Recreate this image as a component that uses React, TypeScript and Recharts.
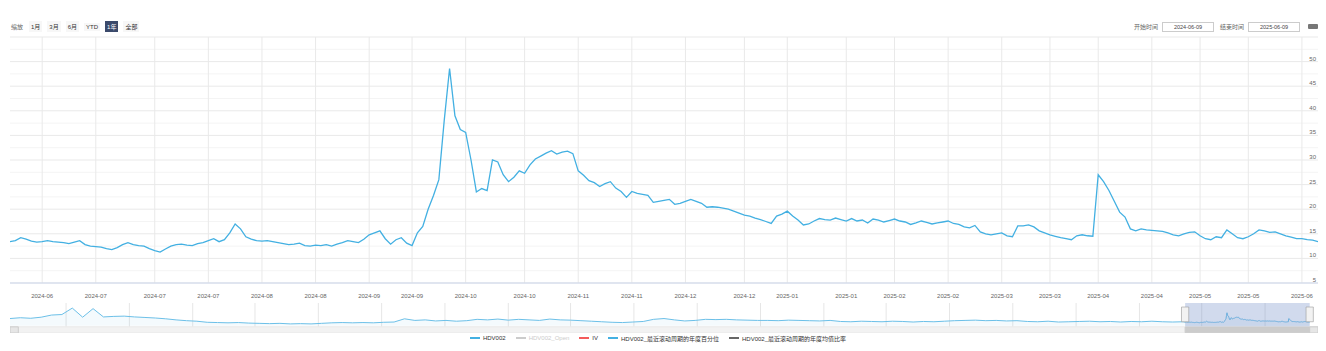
import React from 'react';
import { LineChart, Line, XAxis, YAxis, CartesianGrid, AreaChart, Area, ReferenceArea } from 'recharts';

const FONT = '"Liberation Sans", "Noto Sans CJK SC", Arial, sans-serif';

// main series (trading days, 2024-06 .. 2025-06)
const hv: number[] = [
  13.4, 13.6, 14.2, 13.9, 13.5, 13.3, 13.4, 13.6, 13.4, 13.3,
  13.2, 13.0, 13.3, 13.6, 12.8, 12.5, 12.4, 12.3, 12.0, 11.8,
  12.2, 12.8, 13.2, 12.8, 12.6, 12.5, 12.0, 11.6, 11.3, 11.9,
  12.5, 12.8, 12.9, 12.7, 12.6, 13.0, 13.2, 13.6, 14.0, 13.4,
  13.8, 15.2, 17.0, 16.0, 14.4, 13.9, 13.6, 13.5, 13.6, 13.4,
  13.2, 13.0, 12.8, 12.9, 13.1, 12.6, 12.5, 12.7, 12.6, 12.8,
  12.5, 12.9, 13.2, 13.6, 13.4, 13.2, 13.9, 14.8, 15.2, 15.6,
  14.0, 12.9, 13.8, 14.2, 13.1, 12.6, 15.2, 16.5, 20.0, 22.8,
  26.0, 38.0, 48.6, 39.0, 36.2, 35.6, 30.0, 23.5, 24.2, 23.8,
  30.0, 29.6, 27.0, 25.6, 26.5, 27.8, 27.3, 29.0, 30.2, 30.8,
  31.4, 31.9, 31.2, 31.6, 31.8, 31.3, 27.8, 26.9, 25.8, 25.4,
  24.6, 25.2, 25.6, 24.3, 23.6, 22.4, 23.6, 23.2, 23.0, 22.8,
  21.4, 21.6, 21.8, 22.0, 21.0, 21.2, 21.6, 22.0, 21.6, 21.2,
  20.4, 20.5, 20.4, 20.2, 20.0, 19.6, 19.2, 18.8, 18.6, 18.2,
  17.9, 17.5, 17.1, 18.6, 19.0, 19.6, 18.6, 17.8, 16.8, 17.0,
  17.6, 18.1, 17.9, 17.8, 18.2, 17.9, 17.6, 18.1, 17.6, 17.8,
  17.2, 18.0, 17.8, 17.4, 17.7, 18.0, 17.6, 17.4, 16.9, 17.2,
  17.6, 17.3, 17.0, 17.2, 17.4, 17.6, 17.1, 16.9, 16.4, 16.2,
  16.7, 15.4, 15.0, 14.8, 15.0, 15.2, 14.6, 14.4, 16.6, 16.6,
  16.8, 16.4, 15.6, 15.2, 14.8, 14.5, 14.2, 14.0, 13.8, 14.6,
  14.8, 14.6, 14.5, 27.0, 25.6, 23.8, 21.6, 19.4, 18.4, 16.0,
  15.6, 16.0, 15.8, 15.7, 15.6, 15.5, 15.2, 14.8, 14.6, 15.0,
  15.3, 15.4, 14.6, 14.0, 13.8, 14.4, 14.2, 15.8, 15.0, 14.2,
  14.0, 14.4, 15.0, 15.8, 15.6, 15.3, 15.4, 15.0, 14.6, 14.3,
  14.0, 14.0, 13.8, 13.7, 13.4,
];

const xTickIdx: number[] = [6, 16, 27, 37, 47, 57, 67, 75, 85, 96, 106, 116, 126, 137, 145, 156, 165, 175, 185, 194, 203, 213, 222, 231, 241];
const xTickLabels: string[] = [
  '2024-06', '2024-07', '2024-07', '2024-07', '2024-08', '2024-08', '2024-09', '2024-09', '2024-10', '2024-10',
  '2024-11', '2024-11', '2024-12', '2024-12', '2025-01', '2025-01', '2025-02', '2025-02', '2025-03', '2025-03',
  '2025-04', '2025-04', '2025-05', '2025-05', '2025-06',
];
const yTicks: number[] = [5, 10, 15, 20, 25, 30, 35, 40, 45, 50, 55];
const yMinor: number[] = [7.5, 12.5, 17.5, 22.5, 27.5, 32.5, 37.5, 42.5, 47.5, 52.5];

// navigator: monthly history before the selected year
const navHistory: number[] = [
  27, 30, 28, 32, 40, 42, 66, 32, 64, 33,
  35, 36, 33, 31, 29, 26, 22, 19, 17, 13,
  12, 11, 12, 10, 9, 8, 9, 7, 8, 7,
  9, 11, 12, 11, 12, 11, 13, 14, 26, 20,
  22, 18, 20, 17, 19, 24, 22, 25, 21, 24,
  22, 20, 25, 22, 21, 19, 17, 15, 13, 12,
  14, 16, 24, 27, 22, 18, 20, 24, 23, 24,
  22, 21, 20, 20, 19, 21, 20, 19, 18, 20,
  16, 15, 17, 16, 15, 17, 16, 14, 16, 15,
  17, 19, 20, 21, 19, 20, 18, 19, 16, 15,
  17, 14, 15, 16, 17, 15, 16, 14, 16, 15,
  17, 15, 14, 15,
];
const navTicks: number[] = [5.4, 11.5, 17.6, 23.6, 29.7, 35.8, 41.9, 48.0, 54.0, 60.1, 66.2, 72.3, 78.4, 84.4, 90.5, 96.6, 102.7, 108.8, 114.8, 120.9];
const navTickLabels: string[] = [
  '2015-07', '2016-01', '2016-07', '2017-01', '2017-07', '2018-01', '2018-07', '2019-01', '2019-07', '2020-01',
  '2020-07', '2021-01', '2021-07', '2022-01', '2022-07', '2023-01', '2023-07', '2024-01', '2024-07', '2025-01',
];
const selStart = 113.2;
const selEnd = 125.2;

const legendNames: string[] = ['HDV002', 'HDV002_Open', 'IV', 'HDV002_最近滚动周期的年度百分位', 'HDV002_最近滚动周期的年度均值比率'];
const legendLineColors: string[] = ['#43b0e2', '#cccccc', '#f45b5b', '#43b0e2', '#666666'];
const legendTextColors: string[] = ['#333333', '#cccccc', '#333333', '#333333', '#333333'];

const rangeButtons: string[] = ['1月', '3月', '6月', 'YTD', '1年', '全部'];
const selectedButton = '1年';
const startDate = '2024-06-09';
const endDate = '2025-06-09';

const mainData = hv.map((v, i) => ({ i, hv: v }));
const navData = [
  ...navHistory.map((v, m) => ({ t: m, v })),
  ...hv.map((v, i) => ({ t: selStart + (i * (selEnd - selStart)) / (hv.length - 1), v })),
];

const YTick = (props: any) => {
  const { x, y, payload } = props;
  if (payload.value === 55) return <g />;
  return (
    <text x={x} y={y - 3} textAnchor="end" dominantBaseline="central" fontSize={6} fill="#666" fontFamily={FONT}>
      {payload.value}
    </text>
  );
};

const XTick = (props: any) => {
  const { x, y, payload } = props;
  const k = xTickIdx.indexOf(payload.value);
  return (
    <text x={x} y={y + 5} textAnchor="middle" dominantBaseline="central" fontSize={6} fill="#666" fontFamily={FONT}>
      {xTickLabels[k]}
    </text>
  );
};

const NavTick = (props: any) => {
  const { x, y, payload } = props;
  const k = navTicks.indexOf(payload.value);
  return (
    <text x={x + 3} y={y - 14} textAnchor="start" dominantBaseline="central" fontSize={5.5} fill="#999" fontFamily={FONT}>
      {navTickLabels[k]}
    </text>
  );
};

export default function App() {
  return (
    <div style={{ position: 'absolute', left: 0, top: 0, width: 1326, height: 351, background: '#fff', fontFamily: FONT, overflow: 'hidden' }}>
      {/* range selector */}
      <div style={{ position: 'absolute', left: 11, top: 22, height: 9, display: 'flex', alignItems: 'center', fontSize: 6, color: '#666' }}>
        <span style={{ marginRight: 6 }}>缩放</span>
        {rangeButtons.map((b) => (
          <span
            key={b}
            style={{
              marginRight: 5,
              padding: '1px 2px',
              background: b === selectedButton ? '#3b4a6b' : '#f7f7f7',
              color: b === selectedButton ? '#fff' : '#333',
            }}
          >
            {b}
          </span>
        ))}
      </div>
      {/* date inputs */}
      <div style={{ position: 'absolute', left: 1134, top: 22, height: 9, display: 'flex', alignItems: 'center', fontSize: 6, color: '#666' }}>
        <span style={{ marginRight: 4 }}>开始时间</span>
        <span style={{ width: 50, height: 8, border: '1px solid #cccccc', fontSize: 5.5, color: '#444', display: 'flex', alignItems: 'center', justifyContent: 'center', marginRight: 6 }}>{startDate}</span>
        <span style={{ marginRight: 4 }}>结束时间</span>
        <span style={{ width: 50, height: 8, border: '1px solid #cccccc', fontSize: 5.5, color: '#444', display: 'flex', alignItems: 'center', justifyContent: 'center', marginRight: 8 }}>{endDate}</span>
        <span style={{ width: 10, height: 5, background: '#777', borderRadius: 1 }} />
      </div>

      <div style={{ position: 'absolute', left: 0, top: 0 }}>
        <LineChart width={1326} height={300} data={mainData} margin={{ top: 37, right: 8, left: 10, bottom: 0 }}>
          <CartesianGrid horizontalValues={yMinor} vertical={false} stroke="#f4f4f4" strokeWidth={1} />
          <CartesianGrid horizontalValues={yTicks} verticalValues={xTickIdx} stroke="#e9e9e9" strokeWidth={1} />
          <XAxis
            type="number"
            dataKey="i"
            domain={[0, hv.length - 1]}
            ticks={xTickIdx}
            interval={0}
            height={17}
            tick={<XTick />}
            tickLine={false}
            axisLine={{ stroke: '#ccd6eb' }}
            allowDataOverflow
          />
          <YAxis
            orientation="right"
            mirror
            domain={[5, 55]}
            ticks={yTicks}
            interval={0}
            tick={<YTick />}
            tickLine={false}
            tickSize={0}
            tickMargin={2}
            axisLine={false}
            allowDataOverflow
          />
          <Line type="linear" dataKey="hv" stroke="#43b0e2" strokeWidth={1.3} dot={false} isAnimationActive={false} />
        </LineChart>
      </div>

      <div style={{ position: 'absolute', left: 0, top: 300 }}>
        <AreaChart width={1326} height={33} data={navData} margin={{ top: 3, right: 8, left: 10, bottom: 0 }}>
          <ReferenceArea x1={0} x2={126} y1={-27} y2={-4} fill="#f2f2f2" fillOpacity={1} stroke="#e8e8e8" ifOverflow="hidden" />
          <CartesianGrid verticalValues={navTicks} horizontal={false} stroke="#e6e6e6" />
          <XAxis
            type="number"
            dataKey="t"
            domain={[0, 126]}
            ticks={navTicks}
            interval={0}
            height={0}
            tick={<NavTick />}
            tickLine={false}
            axisLine={false}
            allowDataOverflow
          />
          <YAxis hide domain={[-27, 85]} allowDataOverflow />
          <Area type="linear" dataKey="v" stroke="#6cc0e8" strokeWidth={1} fill="#43b0e2" fillOpacity={0.06} dot={false} isAnimationActive={false} baseValue={0} />
          <ReferenceArea x1={selStart} x2={selEnd} y1={-3} y2={85} fill="rgba(102,133,194,0.3)" fillOpacity={1} stroke="none" ifOverflow="hidden" />
          <ReferenceArea x1={selStart} x2={selEnd} y1={-26} y2={-5} fill="#cccccc" fillOpacity={1} stroke="#cccccc" ifOverflow="hidden" />
          <ReferenceArea x1={selStart - 0.35} x2={selStart + 0.35} y1={15} y2={70} fill="#f2f2f2" fillOpacity={1} stroke="#999" strokeWidth={0.6} ifOverflow="hidden" />
          <ReferenceArea x1={selEnd - 0.35} x2={selEnd + 0.35} y1={15} y2={70} fill="#f2f2f2" fillOpacity={1} stroke="#999" strokeWidth={0.6} ifOverflow="hidden" />
          <ReferenceArea x1={0} x2={0.8} y1={-27} y2={-4} fill="#e6e6e6" fillOpacity={1} stroke="#ccc" ifOverflow="hidden" />
          <ReferenceArea x1={125.2} x2={126} y1={-27} y2={-4} fill="#e6e6e6" fillOpacity={1} stroke="#ccc" ifOverflow="hidden" />
        </AreaChart>
      </div>

      {/* legend */}
      <div style={{ position: 'absolute', left: 0, top: 333, width: 1326, height: 10, display: 'flex', justifyContent: 'center', alignItems: 'center', fontSize: 6 }}>
        {legendNames.map((n, k) => (
          <span key={n} style={{ display: 'flex', alignItems: 'center', marginRight: 10 }}>
            <span style={{ width: 10, height: 1.3, background: legendLineColors[k], marginRight: 3 }} />
            <span style={{ color: legendTextColors[k] }}>{n}</span>
          </span>
        ))}
      </div>
    </div>
  );
}
